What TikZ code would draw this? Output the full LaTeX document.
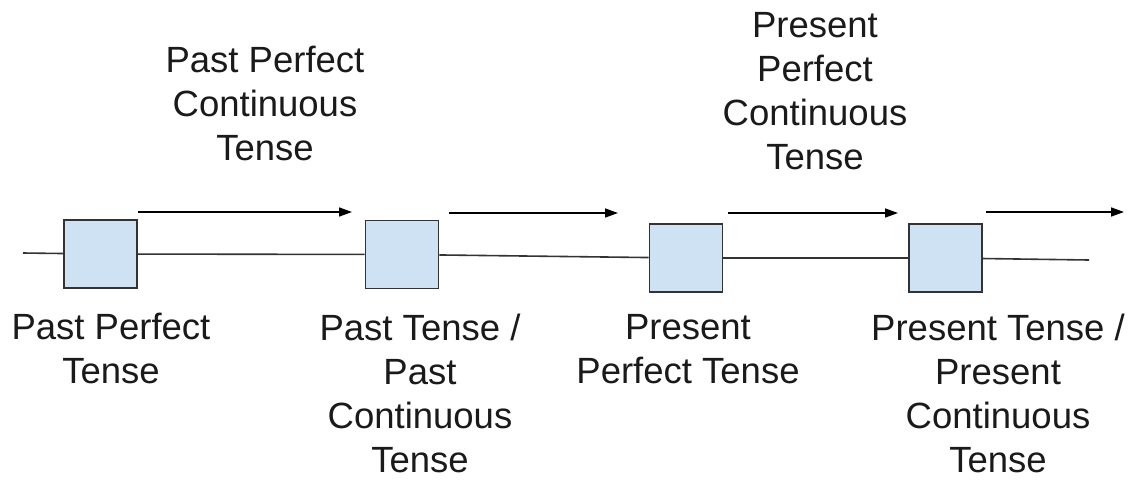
\documentclass[tikz,border=0pt]{standalone}
\usepackage{fontspec}
\setmainfont{Liberation Sans}
\usetikzlibrary{arrows.meta}
\definecolor{boxfill}{HTML}{CFE2F3}
\definecolor{boxline}{HTML}{333333}
\definecolor{txt}{HTML}{1A1A1A}
\begin{document}
\begin{tikzpicture}[x=1pt,y=-1pt,
  tbox/.style={draw=boxline,line width=1.6pt,fill=boxfill,minimum width=73pt,minimum height=68pt,inner sep=0pt},
  tlabel/.style={align=center,anchor=north,inner sep=0pt,text=txt,font=\fontsize{36.5}{44}\selectfont},
  axis/.style={draw=boxline,line width=1.6pt},
  timearrow/.style={draw=black,line width=1.6pt,-{Triangle[length=13pt,width=9pt]}}
]
\useasboundingbox (0,0) rectangle (1129,480);
% boxes
\node[tbox] (b1) at (100.5,254) {};
\node[tbox] (b2) at (402,254.5) {};
\node[tbox] (b3) at (686,258) {};
\node[tbox] (b4) at (945.5,258) {};
% axis
\coordinate (ls) at (23,253);
\coordinate (le) at (1089,260);
\draw[axis] (ls) -- (b1);
\draw[axis] (b1) -- (b2);
\draw[axis] (b2) -- (b3);
\draw[axis] (b3) -- (b4);
\draw[axis] (b4) -- (le);
% arrows
\coordinate (a1s) at (138,212);  \coordinate (a1e) at (352,212);
\coordinate (a2s) at (449,213);  \coordinate (a2e) at (618,213);
\coordinate (a3s) at (728,213);  \coordinate (a3e) at (898,213);
\coordinate (a4s) at (986,212);  \coordinate (a4e) at (1124,212);
\draw[timearrow] (a1s) -- (a1e);
\draw[timearrow] (a2s) -- (a2e);
\draw[timearrow] (a3s) -- (a3e);
\draw[timearrow] (a4s) -- (a4e);
% labels
\node[tlabel] (l1) at (111,313) {Past Perfect\\Tense};
\node[tlabel] (l2) at (420,314) {Past Tense /\\Past\\Continuous\\Tense};
\node[tlabel] (l3) at (688,314) {Present\\Perfect Tense};
\node[tlabel] (l4) at (998,314) {Present Tense /\\Present\\Continuous\\Tense};
\node[tlabel] (t1) at (265,46) {Past Perfect\\Continuous\\Tense};
\node[tlabel] (t2) at (815,12) {Present\\Perfect\\Continuous\\Tense};
\end{tikzpicture}
\end{document}
